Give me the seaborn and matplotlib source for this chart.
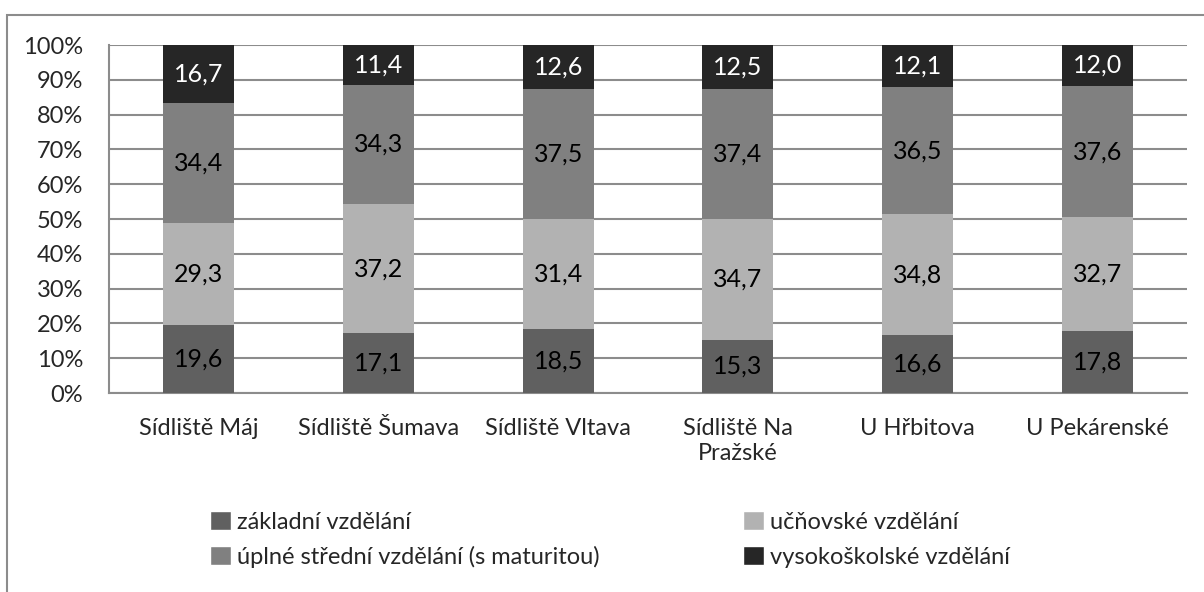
import matplotlib
matplotlib.use('Agg')
import matplotlib.pyplot as plt
import seaborn as sns
import numpy as np
import pandas as pd
from matplotlib.patches import Rectangle, Patch

sites = ['Sídliště Máj', 'Sídliště Šumava', 'Sídliště Vltava',
         'Sídliště Na\nPražské', 'U Hřbitova', 'U Pekárenské']
zakladni = [19.6, 17.1, 18.5, 15.3, 16.6, 17.8]
ucnovske = [29.3, 37.2, 31.4, 34.7, 34.8, 32.7]
stredni = [34.4, 34.3, 37.5, 37.4, 36.5, 37.6]
vysoko = [16.7, 11.4, 12.6, 12.5, 12.1, 12.0]

series = ['základní vzdělání', 'učňovské vzdělání',
          'úplné střední vzdělání (s maturitou)', 'vysokoškolské vzdělání']
colors = ['#606060', '#b2b2b2', '#808080', '#262626']
txt_colors = ['black', 'black', 'black', 'white']

sns.set_style('white')
plt.rcParams['font.family'] = ['Lato', 'DejaVu Sans']
FS = 17

fig = plt.figure(figsize=(12.04, 5.92), dpi=100)
ax = fig.add_axes([109/1204, 1 - 393/592, (1187-109)/1204, (393-45)/592])

# outer chart border
fig.patches.append(Rectangle((7/1204, -0.1), 1.2, 1 - 15/592 + 0.1, transform=fig.transFigure,
                             fill=False, edgecolor='#8c8c8c', linewidth=1.5, zorder=0))

df = pd.DataFrame({'site': sites, 'z': zakladni, 'u': ucnovske, 's': stredni, 'v': vysoko})
bottom = np.zeros(len(sites))
for key, name, col, tc in zip(['z', 'u', 's', 'v'], series, colors, txt_colors):
    vals = df[key].values
    sns.barplot(x=df['site'], y=vals, bottom=bottom, color=col, width=0.395,
                saturation=1, ax=ax, zorder=3, linewidth=0)
    for i, v in enumerate(vals):
        ax.text(i, bottom[i] + v / 2, f'{v:.1f}'.replace('.', ','), ha='center', va='center',
                color=tc, fontsize=FS + 1, zorder=4)
    bottom = bottom + vals

ax.set_xlim(-0.5, len(sites) - 0.5)
ax.set_ylim(0, 100)
ax.set_yticks(range(0, 101, 10))
ax.set_yticklabels([f'{t}%' for t in range(0, 101, 10)])
ax.yaxis.grid(True, color='#8c8c8c', linewidth=1.5, zorder=0)
ax.set_axisbelow(True)
ax.set_xlabel('')
ax.set_ylabel('')
for sp in ['top', 'right']:
    ax.spines[sp].set_visible(False)
for sp in ['left', 'bottom']:
    ax.spines[sp].set_color('#8c8c8c')
    ax.spines[sp].set_linewidth(1.5)

ax.set_xticks(np.arange(len(sites)))
ax.set_xticklabels(sites, fontsize=FS, linespacing=1.25)
ax.tick_params(axis='x', length=0, pad=18)
ax.set_xticks(np.arange(len(sites) + 1) - 0.5, minor=True)
ax.tick_params(axis='x', which='minor', length=6, width=1.5, color='#8c8c8c', direction='out')
ax.tick_params(axis='y', length=6.5, width=1.5, color='#8c8c8c', labelsize=FS, pad=12)

# legend filled row-wise like the original
order = [0, 2, 1, 3]
handles = [Patch(facecolor=colors[k]) for k in order]
labels = [series[k] for k in order]
fig.legend(handles, labels, loc='upper left', bbox_to_anchor=(189/1204, 1 - 490/592), ncol=2,
           frameon=False, fontsize=FS, handlelength=0.865, handleheight=0.865, handletextpad=0.25,
           columnspacing=6.1, labelspacing=0.55)

fig.savefig('out.png', dpi=100)
